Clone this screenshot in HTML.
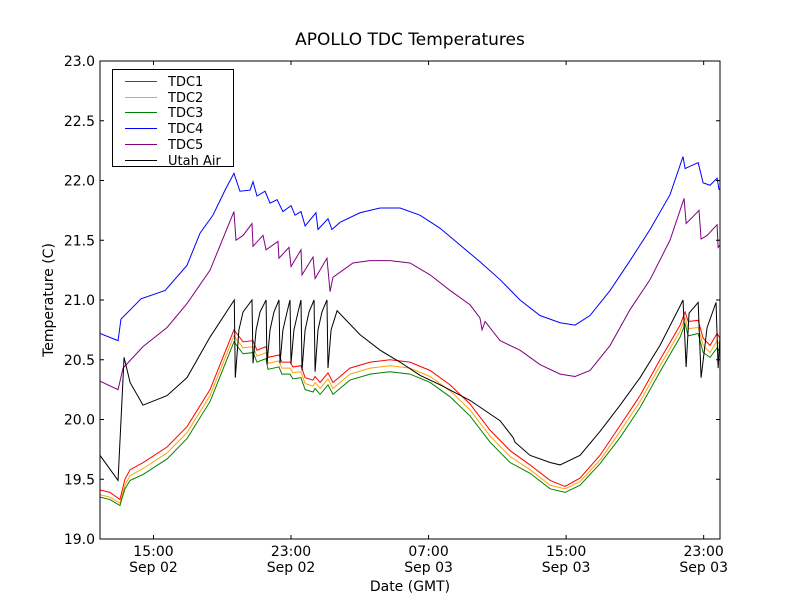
<!DOCTYPE html>
<html><head><meta charset="utf-8">
<style>
html,body{margin:0;padding:0;background:#fff;}
svg{display:block;font-family:"DejaVu Sans","Liberation Sans",sans-serif;}
</style></head>
<body>
<svg id="chart" width="800" height="600" viewBox="0 0 800 600">
<rect x="0" y="0" width="800" height="600" fill="#fff"/>
<text x="410" y="45" font-size="17" text-anchor="middle">APOLLO TDC Temperatures</text>
<text x="410" y="591" font-size="14" text-anchor="middle">Date (GMT)</text>
<text transform="translate(53,300) rotate(-90)" font-size="14" text-anchor="middle">Temperature (C)</text>
<g id="series"></g>
<g id="axes"></g>
<g id="legend"></g>
</svg>
<script>
// ---- data (hours since Sep 02 00:00 GMT, temperature in C) ----
const yTicks = [19.0,19.5,20.0,20.5,21.0,21.5,22.0,22.5,23.0];
const xTickHours = [15,23,31,39,47];
const xTickTimes = ["15:00","23:00","07:00","15:00","23:00"];
const xTickDates = ["Sep 02","Sep 02","Sep 03","Sep 03","Sep 03"];
const seriesNames = ["TDC1","TDC2","TDC3","TDC4","TDC5","Utah Air"];

const tdcTime = [11.89,12.47,13.05,13.34,13.64,14.40,15.79,16.95,18.29,19.68,20.21,20.79,21.02,21.55,21.66,22.30,22.47,22.94,23.11,23.58,23.82,24.28,24.40,24.69,25.15,25.44,26.43,27.60,28.76,29.92,31.09,32.25,33.41,34.58,35.74,36.90,38.07,38.94,39.81,40.97,42.14,43.30,44.46,45.63,45.92,46.10,46.68,46.97,47.37,47.78,47.95];
const tdc1 = [19.41,19.39,19.33,19.50,19.58,19.64,19.77,19.94,20.25,20.75,20.65,20.66,20.58,20.61,20.52,20.54,20.48,20.48,20.44,20.45,20.35,20.33,20.36,20.31,20.39,20.31,20.43,20.48,20.50,20.48,20.41,20.29,20.13,19.91,19.74,19.62,19.49,19.44,19.51,19.70,19.95,20.20,20.50,20.79,20.90,20.82,20.83,20.68,20.62,20.72,20.68];
const tdc2 = [19.37,19.35,19.30,19.45,19.53,19.59,19.72,19.89,20.20,20.70,20.60,20.61,20.53,20.56,20.47,20.49,20.43,20.43,20.39,20.40,20.30,20.28,20.31,20.26,20.34,20.26,20.38,20.43,20.45,20.43,20.36,20.24,20.08,19.86,19.69,19.58,19.45,19.42,19.48,19.66,19.90,20.15,20.45,20.74,20.85,20.76,20.77,20.62,20.56,20.66,20.62];
const tdc3 = [19.35,19.33,19.28,19.42,19.49,19.54,19.67,19.84,20.15,20.65,20.55,20.56,20.48,20.51,20.42,20.44,20.38,20.38,20.34,20.35,20.25,20.23,20.26,20.21,20.29,20.21,20.33,20.38,20.40,20.38,20.31,20.19,20.03,19.81,19.64,19.55,19.42,19.39,19.45,19.63,19.85,20.10,20.40,20.69,20.80,20.70,20.72,20.56,20.52,20.60,20.56];

const tdc4Time = [11.89,12.94,13.11,14.28,15.68,16.95,17.71,18.46,19.20,19.68,20.03,20.62,20.79,21.02,21.49,21.78,22.19,22.53,23.00,23.23,23.58,23.82,24.45,24.57,25.15,25.38,25.85,27.01,28.18,29.34,30.50,31.67,32.83,33.99,35.16,36.32,37.48,38.65,39.52,40.39,41.56,42.72,43.88,45.04,45.80,45.92,46.68,46.97,47.37,47.78,47.90];
const tdc4 = [20.72,20.66,20.84,21.01,21.08,21.29,21.56,21.71,21.93,22.06,21.91,21.92,21.99,21.87,21.91,21.81,21.84,21.74,21.79,21.71,21.74,21.62,21.73,21.59,21.68,21.59,21.65,21.73,21.77,21.77,21.71,21.60,21.46,21.32,21.17,21.00,20.87,20.81,20.79,20.87,21.08,21.33,21.59,21.88,22.20,22.10,22.15,21.98,21.96,22.02,21.92];

const tdc5Time = [11.89,12.94,13.23,14.39,15.79,16.95,18.29,19.68,19.80,20.21,20.73,20.79,21.37,21.55,22.24,22.30,22.88,23.00,23.58,23.64,24.28,24.40,25.09,25.27,25.44,26.60,27.60,28.76,29.92,31.09,32.25,33.41,33.99,34.11,34.29,35.16,36.32,37.48,38.65,39.52,40.39,41.56,42.72,43.88,45.04,45.86,45.98,46.33,46.73,46.85,47.20,47.78,47.84,47.95];
const tdc5 = [20.32,20.25,20.43,20.61,20.77,20.97,21.25,21.74,21.50,21.54,21.64,21.45,21.54,21.42,21.49,21.35,21.44,21.28,21.42,21.21,21.36,21.18,21.35,21.07,21.19,21.31,21.33,21.33,21.31,21.21,21.08,20.96,20.85,20.75,20.82,20.66,20.58,20.46,20.38,20.36,20.41,20.62,20.92,21.17,21.50,21.85,21.64,21.69,21.75,21.51,21.54,21.63,21.44,21.46];

const airTime = [11.89,12.94,13.29,13.64,14.39,15.79,16.95,18.29,19.70,19.76,
19.97,20.21,20.73,20.79,20.97,21.20,21.55,21.60,21.78,22.01,22.30,22.36,22.53,22.77,22.94,23.00,23.17,23.41,23.58,23.64,23.82,24.05,24.34,24.40,24.57,24.80,25.09,25.15,
25.33,25.68,27.01,28.18,29.34,30.50,31.67,33.41,35.16,35.91,36.03,36.90,38.07,38.65,39.81,40.97,42.14,43.30,44.46,45.63,45.80,45.98,46.15,46.68,46.85,47.20,47.72,47.84,47.95];
const utahAir = [19.70,19.49,20.52,20.31,20.12,20.20,20.35,20.69,21.00,20.35,
20.75,20.90,21.00,20.47,20.75,20.90,21.00,20.46,20.75,20.90,21.00,20.47,20.75,20.90,21.00,20.47,20.75,20.90,21.00,20.41,20.75,20.90,21.00,20.40,20.75,20.90,21.00,20.43,
20.75,20.91,20.71,20.58,20.48,20.37,20.29,20.16,19.99,19.85,19.81,19.70,19.64,19.62,19.70,19.90,20.12,20.35,20.62,20.95,21.00,20.44,20.89,20.98,20.35,20.77,20.98,20.43,20.70];

const NS="http://www.w3.org/2000/svg";
const L=100,R=720,T=61,B=539;
const H0=11.89,H1=47.95,V0=19,V1=23;
function xs(h){return L+(h-H0)/(H1-H0)*(R-L);}
function ys(v){return B-(v-V0)/(V1-V0)*(B-T);}
function mk(tag,attrs,parent){const e=document.createElementNS(NS,tag);for(const k in attrs)e.setAttribute(k,attrs[k]);parent.appendChild(e);return e;}

const svgRoot=document.getElementById('chart');
const defs=mk('defs',{},svgRoot);
const clip=mk('clipPath',{id:'clip'},defs);
mk('rect',{x:L,y:T,width:R-L,height:B-T},clip);

const sg=document.getElementById('series');
const colors=['#ff0000','#ffa500','#008000','#0000ff','#800080','#000000'];
const seriesList=[[tdcTime,tdc1,'tdc1-line'],[tdcTime,tdc2,'tdc2-line'],[tdcTime,tdc3,'tdc3-line'],[tdc4Time,tdc4,'tdc4-line'],[tdc5Time,tdc5,'tdc5-line'],[airTime,utahAir,'utah-air-line']];
seriesList.forEach((s,k)=>{
  const d=s[0].map((t,i)=>(i?'L':'M')+xs(t).toFixed(2)+','+ys(s[1][i]).toFixed(2)).join(' ');
  const p=mk('path',{d:d,fill:'none',stroke:colors[k],'stroke-width':1,'clip-path':'url(#clip)'},sg);
  
  
});

const ag=document.getElementById('axes');
const frame=mk('rect',{x:L,y:T,width:R-L,height:B-T,fill:'none',stroke:'#000','stroke-width':1},ag);


yTicks.forEach(v=>{
  const y=ys(v);
  mk('line',{x1:L,x2:L+4,y1:y,y2:y,stroke:'#000'},ag);
  mk('line',{x1:R-4,x2:R,y1:y,y2:y,stroke:'#000'},ag);
  const t=mk('text',{x:L-5,y:y+5,'font-size':14,'text-anchor':'end'},ag);
  t.textContent=v.toFixed(1);
  
  
});
xTickHours.forEach((h,i)=>{
  const x=xs(h);
  mk('line',{x1:x,x2:x,y1:B,y2:B-4,stroke:'#000'},ag);
  mk('line',{x1:x,x2:x,y1:T,y2:T+4,stroke:'#000'},ag);
  const t=mk('text',{x:x,y:B+17,'font-size':14,'text-anchor':'middle'},ag);
  t.textContent=xTickTimes[i];
  
  
  const t2=mk('text',{x:x,y:B+33,'font-size':14,'text-anchor':'middle'},ag);
  t2.textContent=xTickDates[i];
  
  
});

const lg=document.getElementById('legend');
mk('rect',{x:112.5,y:69.5,width:121,height:97,fill:'#fff',stroke:'#000','stroke-width':1},lg);
seriesNames.forEach((name,i)=>{
  const y=Math.round(81+i*15.7);
  const sw=mk('rect',{x:125,y:y,width:32,height:1,fill:colors[i]},lg);
  
  
  const t=mk('text',{x:168,y:y+5,'font-size':13},lg);
  t.textContent=name;
  
  
});
</script>
</body></html>
